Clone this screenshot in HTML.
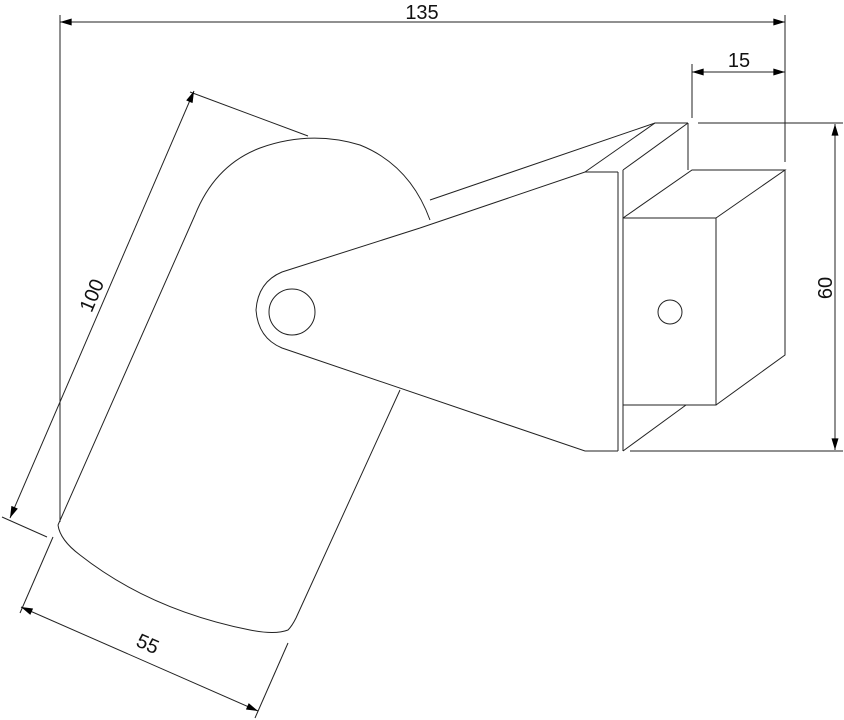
<!DOCTYPE html>
<html><head><style>
html,body{margin:0;padding:0;background:#fff;}
svg{display:block;}
text{font-family:"Liberation Sans",sans-serif;font-size:20px;fill:#111;}
</style></head><body>
<svg width="844" height="720" viewBox="0 0 844 720" xmlns="http://www.w3.org/2000/svg">
<defs>
<marker id="a" viewBox="0 0 10 6" refX="10" refY="3" markerWidth="14" markerHeight="7" orient="auto-start-reverse" markerUnits="userSpaceOnUse">
<path d="M0,0 L10,3 L0,6 z" fill="#000"/></marker>
</defs>
<g fill="none" stroke="#222" stroke-width="1">
<!-- 135 dim -->
<line x1="60" y1="15" x2="60" y2="522"/>
<line x1="785" y1="15" x2="785" y2="162"/>
<line x1="60" y1="22" x2="785" y2="22" marker-start="url(#a)" marker-end="url(#a)"/>
<!-- 15 dim -->
<line x1="692" y1="64" x2="692" y2="118"/>
<line x1="692" y1="72" x2="785" y2="72" marker-start="url(#a)" marker-end="url(#a)"/>
<!-- 60 dim -->
<line x1="698" y1="123" x2="843" y2="123"/>
<line x1="630" y1="451" x2="843" y2="451"/>
<line x1="835" y1="124" x2="835" y2="450" marker-start="url(#a)" marker-end="url(#a)"/>
<!-- 100 dim -->
<line x1="190" y1="92" x2="308" y2="136"/>
<line x1="2" y1="517" x2="47" y2="537"/>
<line x1="10" y1="518" x2="194" y2="91" marker-start="url(#a)" marker-end="url(#a)"/>
<!-- 55 dim -->
<line x1="20" y1="613" x2="53" y2="537"/>
<line x1="255" y1="718" x2="288" y2="643"/>
<line x1="21" y1="607" x2="258" y2="711" marker-start="url(#a)" marker-end="url(#a)"/>

<!-- cylinder -->
<path d="M58,525 L195,215 Q215,165 260,148 Q310,130 360,145 Q410,165 430,220"/>
<path d="M58,525 Q60,540 80,555 Q150,610 250,630 Q275,635 288,630 Q292,626 296,618 L400,390"/>
<!-- arm -->
<path d="M430,200 L655,123 L688,123"/>
<path d="M420,228 L585,172 L618,172"/>
<path d="M420,228 L282,272 Q258,282 256,310 Q258,338 282,348 L585,451 L618,451"/>
<line x1="585" y1="172" x2="655" y2="123"/>
<circle cx="292" cy="312" r="23"/>
<!-- plate -->
<line x1="618" y1="172" x2="618" y2="451"/>
<line x1="623" y1="170" x2="623" y2="451"/>
<line x1="623" y1="170" x2="688" y2="123"/>
<line x1="688" y1="123" x2="688" y2="170"/>
<line x1="623" y1="451" x2="686" y2="405"/>
<!-- box -->
<rect x="623" y="218" width="93" height="187"/>
<path d="M623,218 L692,170 L785,170 L716,218"/>
<path d="M785,170 L785,355 L716,405"/>
<circle cx="670" cy="312" r="12"/>
</g>
<text x="422" y="19" text-anchor="middle">135</text>
<text x="739" y="67" text-anchor="middle">15</text>
<text transform="translate(832,288) rotate(-90)" text-anchor="middle">60</text>
<text transform="translate(98,298) rotate(-67)" text-anchor="middle">100</text>
<text transform="translate(145,650) rotate(24)" text-anchor="middle">55</text>
</svg>
</body></html>
